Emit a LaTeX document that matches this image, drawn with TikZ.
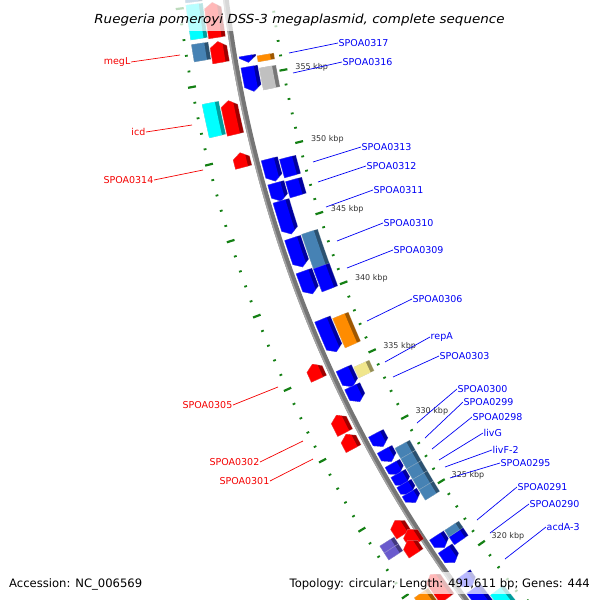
\documentclass[tikz,border=0pt]{standalone}
\usepackage{fontspec}
\setmainfont{DejaVu Sans}
\usepackage{graphicx}
\definecolor{lblue}{RGB}{0,0,245}
\definecolor{lred}{RGB}{245,0,0}
\definecolor{tickg}{RGB}{20,128,20}
\definecolor{fblue}{RGB}{0,0,255}
\definecolor{fred}{RGB}{255,0,0}
\definecolor{fcyan}{RGB}{0,255,255}
\definecolor{fsteel}{RGB}{70,130,180}
\definecolor{forange}{RGB}{255,140,0}
\definecolor{fsilver}{RGB}{192,192,192}
\definecolor{fkhaki}{RGB}{240,230,140}
\definecolor{fslate}{RGB}{106,90,205}
\newcommand\hw{8.5}
% draw a feature between angles \fT (top) and \fB (bottom); #1 slot radius, #2 0 box 1 down-arrow 2 up-arrow, #3 colour
\newcommand\drawfeat[3]{%
  \pgfmathsetmacro\fL{(\fT-\fB)*pi/180*#1}%
  \pgfmathsetmacro\fh{min(5.5,\fL)/#1*180/pi}%
  \pgfmathsetmacro\fro{#1+\hw}%
  \pgfmathsetmacro\fri{#1-\hw}%
  \pgfmathsetmacro\fmid{#1-\hw+4}%
  \pgfmathsetmacro\fcT{\fT+1}%
  \pgfmathsetmacro\fcB{\fB-1}%
  \pgfmathsetmacro\fcr{#1+\hw+3}%
  \ifcase#2\relax
    \def\fpath{(\fT:\fro) arc[start angle=\fT,end angle=\fB,radius=\fro] -- (\fB:\fri) arc[start angle=\fB,end angle=\fT,radius=\fri] -- cycle}%
  \or
    \pgfmathsetmacro\fN{\fB+\fh}%
    \def\fpath{(\fT:\fro) arc[start angle=\fT,end angle=\fN,radius=\fro] -- (\fB:#1) -- (\fN:\fri) arc[start angle=\fN,end angle=\fT,radius=\fri] -- cycle}%
  \or
    \pgfmathsetmacro\fN{\fT-\fh}%
    \def\fpath{(\fT:#1) -- (\fN:\fro) arc[start angle=\fN,end angle=\fB,radius=\fro] -- (\fB:\fri) arc[start angle=\fB,end angle=\fN,radius=\fri] -- cycle}%
  \fi
  \fill[#3!62!black] \fpath;%
  \begin{scope}
    \clip (\fcT:\fmid) arc[start angle=\fcT,end angle=\fcB,radius=\fmid] -- (\fcB:\fcr) arc[start angle=\fcB,end angle=\fcT,radius=\fcr] -- cycle;
    \fill[#3] \fpath;
  \end{scope}
  \draw[white,opacity=0.35,line width=0.4] \fpath;%
}
% feature from its bounding-box top/bottom y: #1 radius, #2 #3 y, #4 type, #5 colour
\newcommand\feat[5]{%
  \pgfmathsetmacro\fc{180-asin(((#2+#3)/2+155)/#1)}%
  \ifnum#4=0 \def\ff{2}\else\def\ff{0.6}\fi
  \pgfmathsetmacro\fL{max(4,((#3-#2)-\ff*\hw*sin(\fc))/abs(cos(\fc)))}%
  \pgfmathsetmacro\fd{\fL/2/#1*180/pi}%
  \pgfmathsetmacro\fT{\fc+\fd}%
  \pgfmathsetmacro\fB{\fc-\fd}%
  \drawfeat{#1}{#4}{#5}%
}
% feature from the y of its two ends on the slot centre line
\newcommand\featc[5]{%
  \pgfmathsetmacro\fT{180-asin((#2+155)/#1)}%
  \pgfmathsetmacro\fB{180-asin((#3+155)/#1)}%
  \drawfeat{#1}{#4}{#5}%
}
\tikzset{
 blab/.style={font=\fontsize{9.5}{10}\selectfont, text=lblue, inner sep=0.5pt, anchor=west},
 rlab/.style={font=\fontsize{9.5}{10}\selectfont, text=lred, inner sep=0.5pt, anchor=east},
 bline/.style={draw=lblue, line width=0.7},
 rline/.style={draw=lred, line width=0.7},
 kbp/.style={font=\fontsize{8}{9}\selectfont, text=black!80, anchor=west, inner sep=0pt},
 tickmaj/.style={draw=tickg, line width=2.2},
 tickmin/.style={draw=tickg, line width=1.8},
 foot/.style={inner sep=0pt, font=\fontsize{11.6}{14}\selectfont},
}
\begin{document}
\begin{tikzpicture}[x=1pt,y=-1pt]
\useasboundingbox (0,0) rectangle (600,600);
\fill[white] (0,0) rectangle (600,600);
\begin{scope}
\clip (0,0) rectangle (600,600);
\begin{scope}[shift={(1484.5,-155)}]
% rulers
\foreach \k in {313,...,362}{
  \pgfmathsetmacro\ta{145.16+(\k-320)*0.6923}
  \pgfmathtruncatemacro\mj{mod(\k,5)==0}
  \ifnum\mj=1
    \draw[tickmaj] (\ta:1218) -- (\ta:1226);
    \draw[tickmaj] (\ta:1311) -- (\ta:1319);
    \ifnum\k<360 \ifnum\k>315 \node[kbp] at (\ta:1210) {\k\ kbp};\fi\fi
  \else
    \draw[tickmin] (\ta:1220.8) -- (\ta:1223.6);
    \draw[tickmin] (\ta:1313.8) -- (\ta:1316.6);
  \fi
}
% backbone
\draw[line width=5.6, color=black!54] (176:1268) arc[start angle=176,end angle=138,radius=1268];
\draw[line width=1.6, color=black!36] (176:1270) arc[start angle=176,end angle=138,radius=1270];
% outer slot 2
\feat{1300}{-22}{3}{0}{fsteel}
\feat{1300}{3}{40}{0}{fcyan}
\feat{1300}{42}{62}{0}{fsteel}
\feat{1300}{101}{138}{0}{fcyan}
\featc{1300}{541.5}{548.5}{0}{fslate}
\featc{1300}{548.5}{555.5}{0}{fslate}
\feat{1300}{588}{614}{0}{forange}
% outer slot 1 (red, up)
\feat{1282}{2}{38}{2}{fred}
\feat{1282}{41}{63}{2}{fred}
\feat{1282}{100}{135}{2}{fred}
\feat{1282}{152}{168}{2}{fred}
\feat{1282}{363}{380}{2}{fred}
\feat{1282}{414}{434}{2}{fred}
\feat{1282}{433}{450}{2}{fred}
\feat{1282}{519}{536}{2}{fred}
\feat{1276}{528}{545}{2}{fred}
\feat{1282}{539}{555}{2}{fred}
\feat{1282}{573}{600}{2}{fred}
% inner slot 1 (blue, down)
\feat{1255}{55}{63}{1}{fblue}
\feat{1255}{66}{92}{1}{fblue}
\feat{1255}{158}{182}{1}{fblue}
\feat{1255}{182}{202}{1}{fblue}
\feat{1255}{200}{235}{1}{fblue}
\feat{1255}{237}{268}{1}{fblue}
\feat{1255}{270}{295}{1}{fblue}
\feat{1255}{318}{353}{1}{fblue}
\feat{1255}{367}{388}{1}{fblue}
\feat{1255}{385}{403}{1}{fblue}
\feat{1255}{432}{448}{1}{fblue}
\feat{1255}{448}{463}{1}{fblue}
\feat{1255}{462}{476}{1}{fblue}
\feat{1255}{472}{487}{1}{fblue}
\feat{1255}{482}{496}{1}{fblue}
\feat{1255}{491}{504}{1}{fblue}
\feat{1255}{534}{549}{1}{fblue}
\feat{1255}{547}{564}{1}{fblue}
\feat{1255}{573}{588}{1}{fblue}
\feat{1255}{587}{612}{1}{fblue}
% inner slot 2 (boxes)
\feat{1237}{53}{62}{0}{forange}
\feat{1237}{65}{90}{0}{fsilver}
\feat{1237}{155}{178}{0}{fblue}
\feat{1237}{177}{198}{0}{fblue}
\feat{1237}{229}{290}{0}{fsteel}
\feat{1237}{263}{292}{0}{fblue}
\feat{1237}{312}{348}{0}{forange}
\feat{1237}{360}{378}{0}{fkhaki}
\featc{1237}{444.2}{454.5}{0}{fsteel}
\featc{1237}{454.5}{464.8}{0}{fsteel}
\featc{1237}{464.8}{475.1}{0}{fsteel}
\featc{1237}{475.1}{485.5}{0}{fsteel}
\featc{1237}{485.5}{495.8}{0}{fsteel}
\feat{1237}{525}{545}{0}{fblue}
\feat{1237}{521}{537}{0}{fsteel}
\feat{1237}{585}{612}{0}{fcyan}
\end{scope}
\end{scope}
% labels, right side
\coordinate (c317) at (289,53);  \node[blab] (l317) at (338,43) {SPOA0317};
\coordinate (c316) at (293,73);  \node[blab] (l316) at (342,62) {SPOA0316};
\coordinate (c313) at (313,162); \node[blab] (l313) at (361,147) {SPOA0313};
\coordinate (c312) at (318,182); \node[blab] (l312) at (366,166) {SPOA0312};
\coordinate (c311) at (326,207); \node[blab] (l311) at (373,190) {SPOA0311};
\coordinate (c310) at (337,241); \node[blab] (l310) at (383,223) {SPOA0310};
\coordinate (c309) at (347,268); \node[blab] (l309) at (393,250) {SPOA0309};
\coordinate (c306) at (367,321); \node[blab] (l306) at (412,299) {SPOA0306};
\coordinate (crep) at (385,362); \node[blab] (lrep) at (430,337) {repA};
\coordinate (c303) at (393,377); \node[blab] (l303) at (439,356) {SPOA0303};
\coordinate (c300) at (417,423); \node[blab] (l300) at (457,389) {SPOA0300};
\coordinate (c299) at (425,438); \node[blab] (l299) at (463,402) {SPOA0299};
\coordinate (c298) at (432,449); \node[blab] (l298) at (472,417) {SPOA0298};
\coordinate (clivG) at (439,460); \node[blab] (llivG) at (483,433) {livG};
\coordinate (clivF) at (445,467); \node[blab] (llivF) at (492,450) {livF-2};
\coordinate (c295) at (450,478); \node[blab] (l295) at (500,463) {SPOA0295};
\coordinate (c291) at (477,520); \node[blab] (l291) at (517,487) {SPOA0291};
\coordinate (c290) at (490,533); \node[blab] (l290) at (529,504) {SPOA0290};
\coordinate (cacd) at (505,559); \node[blab] (lacd) at (546,527) {acdA-3};
\foreach \n in {317,316,313,312,311,310,309,306,rep,303,300,299,298,livG,livF,295,291,290,acd}
  \draw[bline] (c\n) -- (l\n.west);
% labels, left side
\coordinate (cmegL) at (180,55); \node[rlab] (lmegL) at (131,62) {megL};
\coordinate (cicd) at (192,125); \node[rlab] (licd) at (146,132) {icd};
\coordinate (c314) at (203,170); \node[rlab] (l314) at (154,180) {SPOA0314};
\coordinate (c305) at (278,387); \node[rlab] (l305) at (233,405) {SPOA0305};
\coordinate (c302) at (303,441); \node[rlab] (l302) at (260,462) {SPOA0302};
\coordinate (c301) at (313,459); \node[rlab] (l301) at (270,481) {SPOA0301};
\foreach \n in {megL,icd,314,305,302,301}
  \draw[rline] (c\n) -- (l\n.east);
% title and footer
\fill[white,opacity=0.72] (90,0) rectangle (509,31);
\node[anchor=base, inner sep=0pt, font=\fontsize{12.5}{14}\selectfont\itshape] (title) at (299.5,23.3)
  {\scalebox{1.08}[1]{Ruegeria pomeroyi DSS-3 megaplasmid, complete sequence}};
\node[foot, anchor=base west] (acc) at (9,587) {Accession: NC\_006569};
\fill[white,opacity=0.72] (282,572) rectangle (594,594);
\node[foot, anchor=base east] (topo) at (590,587) {Topology: circular; Length: 491,611 bp; Genes: 444};
\end{tikzpicture}
\end{document}
